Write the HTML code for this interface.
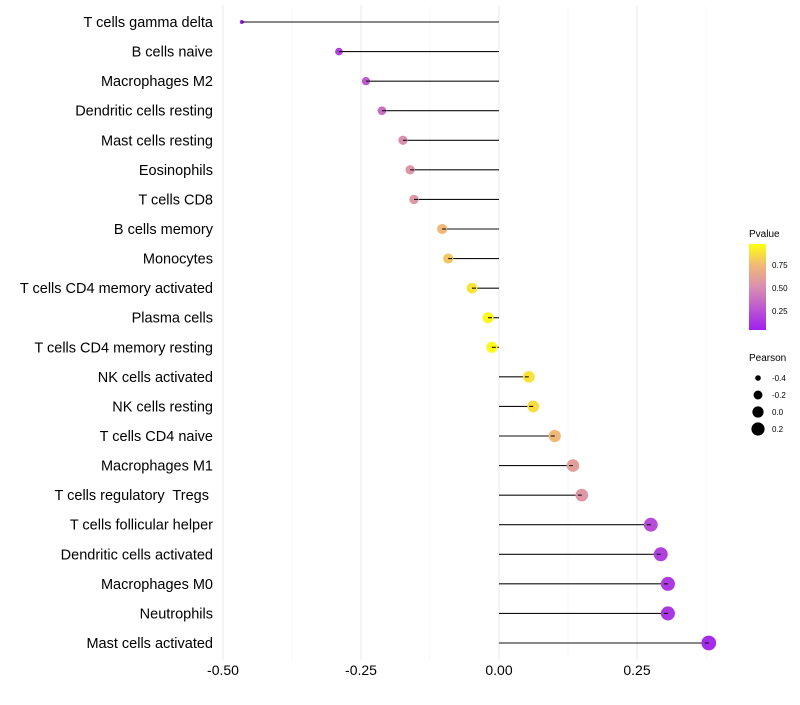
<!DOCTYPE html>
<html><head><meta charset="utf-8"><style>
body{margin:0;background:#fff;font-family:"Liberation Sans",sans-serif}
text{white-space:pre}
</style></head><body>
<svg id="c" width="800" height="700" xmlns="http://www.w3.org/2000/svg" font-family="Liberation Sans, sans-serif">
<defs><linearGradient id="pg" x1="0" y1="1" x2="0" y2="0">
<stop offset="0" stop-color="#a020f0"/><stop offset="0.5" stop-color="#d98fb0"/><stop offset="0.75" stop-color="#f0b878"/><stop offset="1" stop-color="#ffff10"/></linearGradient></defs>
<g id="grid"></g><g id="marks"></g><g id="labels"></g>
<g>
<text x="749" y="237" font-size="10">Pvalue</text>
<rect x="749" y="244" width="17" height="86" fill="url(#pg)"/>
<text x="772" y="268" font-size="8">0.75</text><text x="772" y="291" font-size="8">0.50</text><text x="772" y="314" font-size="8">0.25</text>
</g>
<g id="pleg">
<text x="749" y="361" font-size="10">Pearson</text>
</g>
</svg>
<script>
const categories=["T cells gamma delta","B cells naive","Macrophages M2","Dendritic cells resting","Mast cells resting","Eosinophils","T cells CD8","B cells memory","Monocytes","T cells CD4 memory activated","Plasma cells","T cells CD4 memory resting","NK cells activated","NK cells resting","T cells CD4 naive","Macrophages M1","T cells regulatory  Tregs ","T cells follicular helper","Dendritic cells activated","Macrophages M0","Neutrophils","Mast cells activated"];
const pearson=[-0.466,-0.290,-0.241,-0.212,-0.174,-0.161,-0.154,-0.103,-0.092,-0.049,-0.020,-0.013,0.054,0.062,0.101,0.134,0.150,0.275,0.293,0.306,0.306,0.380];
const pvalues=[0.01,0.15,0.25,0.35,0.5,0.55,0.55,0.75,0.8,0.9,0.97,0.98,0.9,0.88,0.75,0.6,0.55,0.2,0.15,0.12,0.1,0.05];
const xTicks=[-0.5,-0.25,0,0.25];
const xTickLabels=["-0.50","-0.25","0.00","0.25"];
const NS="http://www.w3.org/2000/svg";
const xs=v=>499+v*552;
const ys=i=>22+i*(621/21);
const rs=v=>Math.sqrt(4+(v+0.466)/0.846*50);
function lerp(a,b,t){return a.map((x,k)=>Math.round(x+(b[k]-x)*t));}
const stops=[[0,[160,32,240]],[0.5,[217,143,176]],[0.75,[240,184,120]],[1,[255,255,16]]];
function col(p){for(let k=1;k<stops.length;k++){if(p<=stops[k][0]){const t=(p-stops[k-1][0])/(stops[k][0]-stops[k-1][0]);const c=lerp(stops[k-1][1],stops[k][1],t);return `rgb(${c})`;}}return "rgb(255,255,16)";}
function mk(t,a,p){const e=document.createElementNS(NS,t);for(const k in a)e.setAttribute(k,a[k]);p.appendChild(e);return e;}
const grid=document.getElementById('grid'),marks=document.getElementById('marks'),labels=document.getElementById('labels');
[-0.375,-0.125,0.125,0.375].forEach(v=>{const l=mk('line',{x1:xs(v),x2:xs(v),y1:5,y2:660,stroke:'#f2f2f2','stroke-width':0.6},grid);

});
xTicks.forEach((v,i)=>{const l=mk('line',{x1:xs(v),x2:xs(v),y1:5,y2:660,stroke:'#ebebeb','stroke-width':1.1},grid);


const t=mk('text',{x:xs(v),y:675,'font-size':14,'text-anchor':'middle'},labels);t.textContent=xTickLabels[i];

});
categories.forEach((c,i)=>{const y=ys(i);
const t=mk('text',{x:213,y:y+5,'font-size':14.5,'text-anchor':'end'},labels);t.textContent=c;


const l=mk('line',{x1:xs(0),x2:xs(pearson[i]),y1:y,y2:y,stroke:'#111','stroke-width':1.1},marks);


const d=mk('circle',{cx:xs(pearson[i]),cy:y,r:rs(pearson[i]),fill:col(pvalues[i])},marks);


const s=mk('line',{x1:xs(pearson[i]),x2:xs(pearson[i])+(pearson[i]<0?4:-4),y1:y,y2:y,stroke:'#111','stroke-width':1.1},marks);

});
const pleg=document.getElementById('pleg');
[-0.4,-0.2,0,0.2].forEach((v,i)=>{const y=378+i*17;
const c=mk('circle',{cx:758,cy:y,r:rs(v),fill:'#000'},pleg);


const t=mk('text',{x:772,y:y+3,'font-size':8},pleg);t.textContent=v===0?"0.0":String(v);

});
</script>
</body></html>
